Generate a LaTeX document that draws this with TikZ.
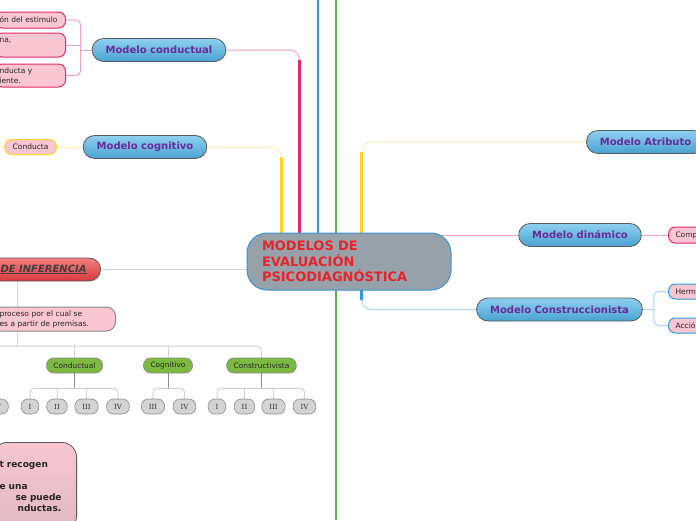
\documentclass[tikz,border=0pt]{standalone}
\usepackage{fontspec}
\setmainfont{DejaVu Sans}
\newfontfamily\romanfont{DejaVu Serif}
\usetikzlibrary{calc,backgrounds}
\definecolor{pillTop}{HTML}{8ED0F0}
\definecolor{pillBot}{HTML}{4AA2D2}
\definecolor{pillText}{HTML}{6A2C9A}
\definecolor{pillEdge}{HTML}{5A5A5A}
\definecolor{hubFill}{HTML}{97A1A9}
\definecolor{hubEdge}{HTML}{3D94D6}
\definecolor{hubText}{HTML}{E8232B}
\definecolor{leafFill}{HTML}{F9C6D2}
\definecolor{rose}{HTML}{E5286A}
\definecolor{roseSoft}{HTML}{F4A0BE}
\definecolor{sun}{HTML}{FFD42A}
\definecolor{sunSoft}{HTML}{FFEFB0}
\definecolor{sky}{HTML}{2D9BE3}
\definecolor{skySoft}{HTML}{A9D5F4}
\definecolor{leaf}{HTML}{5BAF48}
\definecolor{treeGray}{HTML}{D2D2D2}
\definecolor{stemGray}{HTML}{8A8A8A}
\definecolor{redTop}{HTML}{F47E7E}
\definecolor{redBot}{HTML}{D8383C}
\definecolor{moss}{HTML}{7DB940}
\definecolor{chipFill}{HTML}{D3D3D3}

\tikzset{
  pill/.style={draw=pillEdge, line width=0.8pt, rounded corners=11.5pt, top color=pillTop, bottom color=pillBot,
    minimum height=23pt, inner xsep=13.5pt, font=\fontsize{10}{12}\selectfont\bfseries, text=pillText},
  alarm/.style={draw=pillEdge, line width=0.8pt, rounded corners=11.5pt, top color=redTop, bottom color=redBot,
    minimum height=23pt, inner xsep=14pt, font=\fontsize{10}{12}\selectfont\bfseries, text=black!75},
  hub/.style={draw=hubEdge, line width=1pt, fill=hubFill, rounded corners=20pt, text width=174pt, inner xsep=15pt,
    minimum height=57pt, align=left, font=\fontsize{13}{15.5}\selectfont\bfseries, text=hubText},
  leafbox/.style={draw=#1, line width=1pt, fill=leafFill, rounded corners=7pt, inner ysep=2pt,
    align=left, font=\fontsize{7.5}{10}\selectfont, text=black!85},
  branchpill/.style={draw=stemGray, line width=0.6pt, fill=moss, rounded corners=7pt, minimum height=15pt,
    inner xsep=7pt, font=\fontsize{7.4}{9}\selectfont, text=black!85},
  chip/.style={draw=stemGray, line width=0.6pt, fill=chipFill, rounded corners=7pt, minimum height=15pt,
    inner xsep=7.5pt, font=\romanfont\fontsize{7}{8}\selectfont, text=black!80},
  notebox/.style={draw=pillEdge, line width=0.8pt, rounded corners=15pt, top color=leafFill, bottom color=leafFill!80!gray,
    text width=70pt, inner xsep=7pt, inner ysep=19pt, align=left, font=\fontsize{9}{11}\selectfont\bfseries, text=black!85},
  soft/.style={line width=1pt, rounded corners=10pt},
  stem/.style={line width=2.5pt},
  tree/.style={treeGray, line width=1pt},
  stemline/.style={stemGray, line width=1pt}
}

\begin{document}
\begin{tikzpicture}[x=1pt,y=-1pt]
  \useasboundingbox (0,0) rectangle (696,520);

  % Centre
  \node[hub] (hub) at (349,261.5) {MODELOS DE\\EVALUACIÓN\\PSICODIAGNÓSTICA};

  % Main branches
  \node[pill] (conductual) at (159,50) {Modelo conductual};
  \node[pill] (cognitivo) at (145,147) {Modelo cognitivo};
  \node[pill, anchor=west] (atributo) at (586,142) {Modelo Atributo};
  \node[pill] (dinamico) at (580,235) {Modelo dinámico};
  \node[pill] (construccionista) at (559.5,309.5) {Modelo Construccionista};
  \node[alarm, anchor=east] (inferencia) at (101,269.5) {\underline{\textit{DE INFERENCIA}}};

  % Leaves
  \node[leafbox=rose, anchor=east, text width=62pt, inner xsep=4pt, minimum height=16pt] (estimulo) at (66,20) {ón del estimulo};
  \node[leafbox=rose, anchor=east, text width=62pt, inner xsep=4pt, minimum height=24pt] (na) at (66,45) {na,\\\mbox{}};
  \node[leafbox=rose, anchor=east, text width=62pt, inner xsep=4pt, minimum height=23pt] (ambiente) at (66,75.5) {nducta y\\iente.};
  \node[leafbox=sun, anchor=east, inner xsep=8pt, minimum height=15pt] (conducta) at (57,147) {Conducta};
  \node[leafbox=rose, anchor=west, inner xsep=7pt, minimum height=16pt] (comp) at (668,235) {Comp};
  \node[leafbox=sky, anchor=west, inner xsep=7pt, minimum height=15pt] (herm) at (668,291.5) {Herm};
  \node[leafbox=sky, anchor=west, inner xsep=7pt, minimum height=15pt] (accion) at (668,325.5) {Acció};
  \node[leafbox=stemGray, anchor=east, text width=108pt, inner xsep=8pt, minimum height=24pt, rounded corners=9pt] (premisa) at (116,319)
    {proceso por el cual se\\es a partir de premisas.};

  % Inference tree
  \node[branchpill] (tConductual) at (74.5,365.5) {Conductual};
  \node[branchpill] (tCognitivo) at (168,365.5) {Cognitivo};
  \node[branchpill] (tConstructivista) at (261.5,365.5) {Constructivista};

  \node[chip] (p4) at (-3,406.5) {IV};
  \node[chip] (k1) at (30,406.5) {I};
  \node[chip] (k2) at (57,406.5) {II};
  \node[chip] (k3) at (86.5,406.5) {III};
  \node[chip] (k4) at (118,406.5) {IV};
  \node[chip] (g3) at (153,406.5) {III};
  \node[chip] (g4) at (184.5,406.5) {IV};
  \node[chip] (c1) at (217,406.5) {I};
  \node[chip] (c2) at (244.5,406.5) {II};
  \node[chip] (c3) at (273.5,406.5) {III};
  \node[chip] (c4) at (304.5,406.5) {IV};

  % Note
  \node[notebox, anchor=north east] (nota) at (77,442)
    {t recogen\\\mbox{}\\e una\\\hspace*{16pt}se puede\\\hspace*{18pt}nductas.};

  % Fixed points
  \coordinate (westEdge) at (0,0);
  \coordinate (skyTop) at (318,0);
  \coordinate (leafTop) at (336,0);
  \coordinate (leafBot) at (336,520);
  \coordinate (treeStem) at (17,0);
  \coordinate (treeRail) at (0,346);
  \coordinate (sunIn) at ($(hub.north west)+(35,10)$);
  \coordinate (roseIn) at ($(hub.north west)+(53,10)$);
  \coordinate (sunOut) at ($(hub.north west)+(115,10)$);
  \coordinate (skyOut) at ($(hub.south west)+(115,-10)$);

  \begin{scope}[on background layer]
    \fill[white] (0,0) rectangle (696,520);

    % Long stems
    \draw[sky, line width=2pt] (skyTop) -- (skyTop |- hub.center);
    \draw[leaf, line width=2pt] (leafTop) -- (leafBot);

    % Left branches
    \draw[soft, roseSoft] (conductual.east) -| (roseIn);
    \draw[stem, rose] (roseIn) -- ($(roseIn |- conductual.east)+(0,10)$);
    \draw[soft, roseSoft] (conductual.west) -- ++(-11,0) coordinate (roseFork);
    \draw[soft, roseSoft, rounded corners=5pt] (estimulo.east) -| (roseFork) |- (ambiente.east);
    \draw[soft, roseSoft] (na.east) -- (na.east -| roseFork);

    \draw[soft, sunSoft] (cognitivo.east) -| (sunIn);
    \draw[stem, sun] (sunIn) -- ($(sunIn |- cognitivo.east)+(0,10)$);
    \draw[soft, sunSoft] (cognitivo.west) -- (conducta.east);
    \draw[soft, sunSoft] (conducta.west) -- (conducta.west -| westEdge);

    \draw[treeGray, line width=1.5pt] (inferencia.east) -- (inferencia.east -| hub.center);

    % Right branches
    \draw[soft, sunSoft] (atributo.west) -| (sunOut);
    \draw[stem, sun] (sunOut) -- ($(sunOut |- atributo.west)+(0,10)$);
    \draw[soft, roseSoft] (dinamico.west) -- (dinamico.west -| hub.center);
    \draw[soft, roseSoft] (dinamico.east) -- (comp.west);
    \draw[soft, skySoft] (construccionista.west) -| (skyOut);
    \draw[stem, sky] (skyOut) -- ($(skyOut |- construccionista.west)+(0,-10)$);
    \draw[soft, skySoft] (construccionista.east) -- ++(11,0) coordinate (skyFork);
    \draw[soft, skySoft, rounded corners=5pt] (herm.west) -| (skyFork) |- (accion.west);

    % Inference tree
    \draw[tree] (inferencia.south -| treeStem) -- (premisa.north -| treeStem);
    \draw[tree] (premisa.south -| treeStem) -- (treeRail -| treeStem);
    \draw[tree, rounded corners=5pt] (treeRail) -| (tConstructivista.north);
    \draw[tree] (tConductual.north) -- (tConductual.north |- treeRail);
    \draw[tree] (tCognitivo.north) -- (tCognitivo.north |- treeRail);

    \draw[stemline] (tConductual.south) -- ++(0,15) coordinate (kRail);
    \draw[tree, rounded corners=4pt] (k1.north) |- (kRail) -| (k4.north);
    \draw[tree] (k2.north) -- (k2.north |- kRail);
    \draw[tree] (k3.north) -- (k3.north |- kRail);

    \draw[stemline] (tCognitivo.south) -- ++(0,15) coordinate (gRail);
    \draw[tree, rounded corners=4pt] (g3.north) |- (gRail) -| (g4.north);

    \draw[stemline] (tConstructivista.south) -- ++(0,15) coordinate (cRail);
    \draw[tree, rounded corners=4pt] (c1.north) |- (cRail) -| (c4.north);
    \draw[tree] (c2.north) -- (c2.north |- cRail);
    \draw[tree] (c3.north) -- (c3.north |- cRail);
  \end{scope}
\end{tikzpicture}
\end{document}
